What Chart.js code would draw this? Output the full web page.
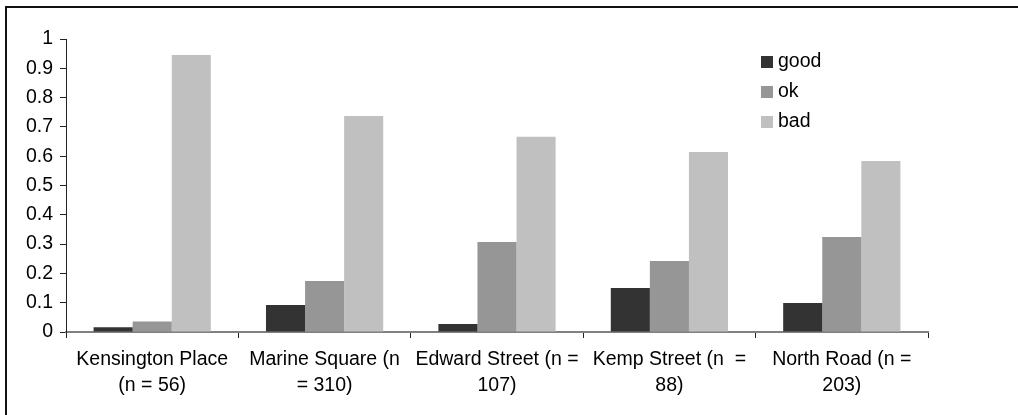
<!DOCTYPE html>
<html>
<head>
<meta charset="utf-8">
<script src="https://cdn.jsdelivr.net/npm/chart.js@4"></script>
<style>
  html, body { margin:0; padding:0; width:1018px; height:415px; overflow:hidden; background:#fff; }
  #frame { position:absolute; left:5px; top:6px; width:1100px; height:500px; border:2px solid #111; box-sizing:border-box; }
  #wrap { position:absolute; left:0; top:0; width:1018px; height:415px; }
</style>
</head>
<body>
<div id="frame"></div>
<div id="wrap"><canvas id="c" width="1018" height="415"></canvas></div>
<script>
const categories = [
  ["Kensington Place", "(n = 56)"],
  ["Marine Square (n", "= 310)"],
  ["Edward Street (n =", "107)"],
  ["Kemp Street (n  =", "88)"],
  ["North Road (n =", "203)"]
];
const seriesNames = ["good", "ok", "bad"];
const goodValues = [0.016, 0.092, 0.027, 0.150, 0.099];
const okValues   = [0.036, 0.174, 0.307, 0.242, 0.324];
const badValues  = [0.945, 0.737, 0.666, 0.614, 0.584];
const yTicks = [0, 0.1, 0.2, 0.3, 0.4, 0.5, 0.6, 0.7, 0.8, 0.9, 1];
const colors = ["#333333", "#969696", "#c0c0c0"];

const FONT = "'Liberation Sans', Arial, sans-serif";
const FSIZE = 19.5;

const legendPlugin = {
  id: 'customLegend',
  afterDraw(chart) {
    const ctx = chart.ctx;
    ctx.save();
    ctx.font = FSIZE + "px " + FONT;
    ctx.textBaseline = 'middle';
    ctx.textAlign = 'left';
    chart.data.datasets.forEach((ds, i) => {
      const y = 62 + i * 30;
      ctx.fillStyle = ds.backgroundColor;
      ctx.fillRect(761, y - 6, 12, 12);
      ctx.fillStyle = '#000';
      ctx.fillText(ds.label, 778, y);
    });
    ctx.restore();
  }
};

new Chart(document.getElementById('c'), {
  type: 'bar',
  data: {
    labels: categories,
    datasets: [
      { label: seriesNames[0], data: goodValues, backgroundColor: colors[0] },
      { label: seriesNames[1], data: okValues,   backgroundColor: colors[1] },
      { label: seriesNames[2], data: badValues,  backgroundColor: colors[2] }
    ]
  },
  options: {
    responsive: false,
    animation: false,
    devicePixelRatio: 1,
    layout: { padding: { left: 0, top: 39, right: 90, bottom: 0 } },
    datasets: { bar: { barPercentage: 1.0, categoryPercentage: 0.68 } },
    plugins: { legend: { display: false }, tooltip: { enabled: false } },
    scales: {
      x: {
        grid: { drawOnChartArea: false, drawTicks: true, tickLength: 6, color: '#222', offset: true },
        border: { display: true, color: '#808080', width: 2 },
        ticks: { color: '#000', font: { family: FONT, size: FSIZE, lineHeight: 1.33 }, padding: 9, maxRotation: 0, autoSkip: false },
        afterFit(scale) { scale.height = 83; }
      },
      y: {
        min: 0, max: 1,
        afterBuildTicks(scale) { scale.ticks = yTicks.map(v => ({ value: v })); },
        grid: { drawOnChartArea: false, drawTicks: true, tickLength: 6, color: '#222' },
        border: { display: true, color: '#222', width: 1 },
        ticks: {
          color: '#000', font: { family: FONT, size: FSIZE }, padding: 7,
          callback: v => String(v)
        },
        afterFit(scale) { scale.width = 66; }
      }
    }
  },
  plugins: [legendPlugin]
});
</script>
</body>
</html>
